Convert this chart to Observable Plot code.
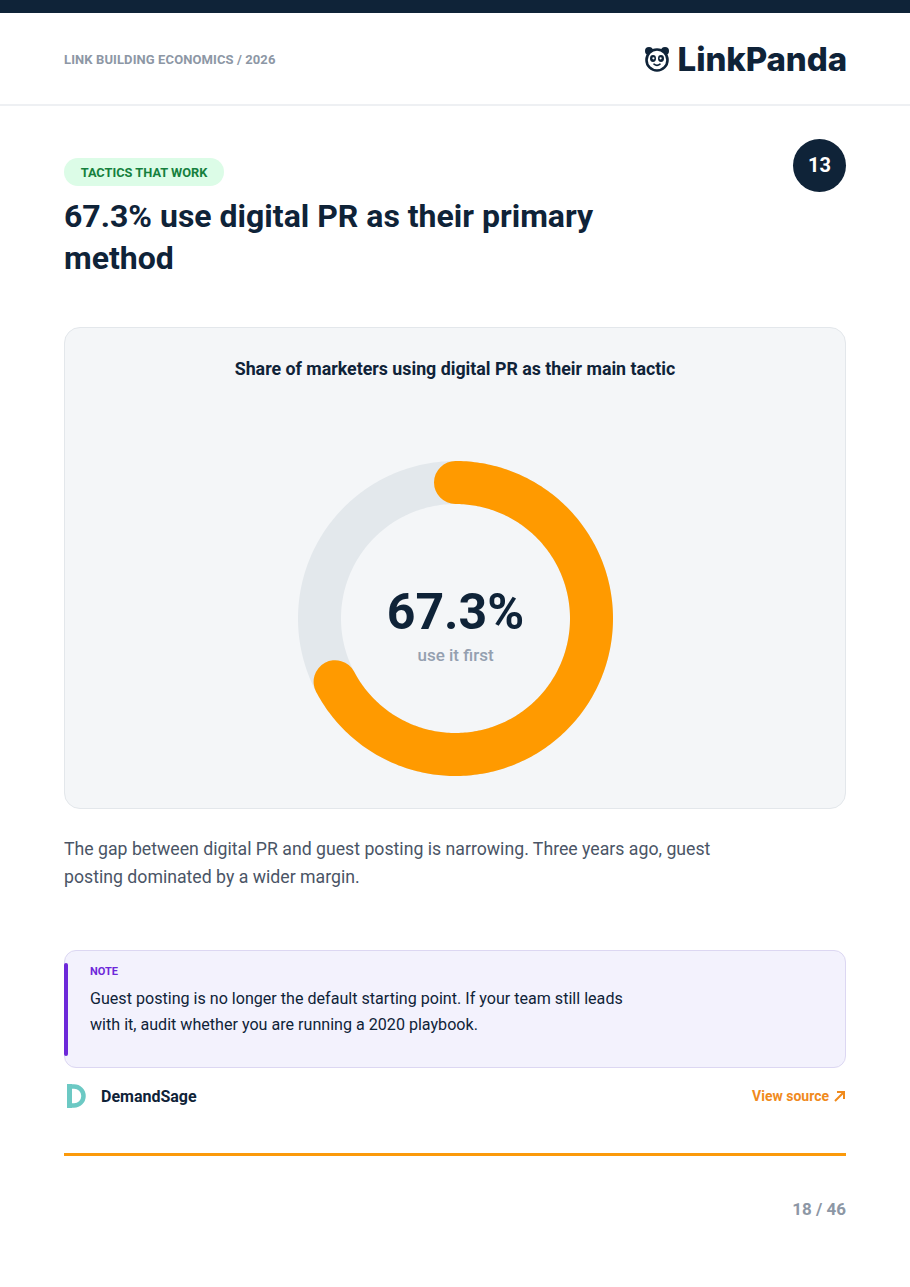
<!DOCTYPE html>
<html><head><meta charset="utf-8">
<script src="https://cdn.jsdelivr.net/npm/d3@7"></script>
<script src="https://cdn.jsdelivr.net/npm/@observablehq/plot@0.6"></script>
<style>
html,body{margin:0;padding:0;background:#fff;}
body{width:910px;height:1287px;position:relative;font-family:Roboto,"Noto Sans",sans-serif;color:#0f2338;overflow:hidden;}
.abs{position:absolute;}
#topbar{left:0;top:0;width:910px;height:13px;background:#0f2338;}
#kicker{left:64px;top:52px;font-size:13px;font-weight:700;color:#8d97a5;letter-spacing:0.1px;}
#logo{right:63px;top:39px;display:flex;align-items:center;gap:8px;}
#logo span{font-family:Inter,sans-serif;font-weight:800;font-size:33px;color:#0f2338;letter-spacing:-0.1px;}
#hr{left:0;top:104px;width:910px;height:2px;background:#eef0f3;}
#tag{left:64px;top:158px;width:160px;height:28px;border-radius:14px;background:#dcfce7;color:#15803d;font-size:12.8px;font-weight:700;line-height:29px;text-align:center;}
#num{left:793px;top:139px;width:53px;height:53px;border-radius:50%;background:#0f2338;color:#fff;font-size:20px;font-weight:700;line-height:53px;text-align:center;}
#title{left:64px;top:195px;width:640px;font-size:32px;font-weight:700;line-height:42px;color:#0f2338;margin:0;}
#card{left:64px;top:327px;width:780px;height:480px;background:#f4f6f8;border:1px solid #e3e7eb;border-radius:16px;}
#cardtitle{left:64px;top:358px;width:782px;text-align:center;font-size:17.8px;font-weight:700;color:#0f2338;}
#chart{left:285px;top:448px;}
#para{left:64px;top:835px;width:690px;font-size:17.7px;line-height:28px;color:#4a5566;margin:0;}
#note{left:64px;top:950px;width:780px;height:116px;background:#f3f2fd;border:1px solid #dcd7f2;border-radius:12px;}
#notebar{left:64px;top:963px;width:4px;height:93px;background:#6d28d9;border-radius:2px;}
#notelabel{left:90px;top:965px;font-size:11px;font-weight:700;color:#6d28d9;}
#notetext{left:90px;top:986px;width:560px;font-size:16.1px;line-height:26px;color:#0f2338;margin:0;}
#dlogo{left:66px;top:1083px;}
#src{left:101px;top:1087px;font-size:16px;font-weight:700;color:#0f2338;}
#view{right:64px;top:1088px;font-size:14px;font-weight:700;color:#f08a1c;display:flex;align-items:center;gap:4px;}
#rule{left:64px;top:1153px;width:782px;height:3px;background:#fb9a0b;}
#page{right:64px;top:1199px;font-size:17px;font-weight:700;color:#8d97a5;}
</style></head>
<body>
<div id="topbar" class="abs"></div>
<div id="kicker" class="abs">LINK BUILDING ECONOMICS / 2026</div>
<div id="logo" class="abs">
<svg width="26" height="26" viewBox="0 0 26 26">
<circle cx="5" cy="5" r="4" fill="#0f2338"/><circle cx="21" cy="5" r="4" fill="#0f2338"/>
<circle cx="13" cy="14" r="10.5" fill="#fff" stroke="#0f2338" stroke-width="2.6"/>
<ellipse cx="9" cy="12.5" rx="3" ry="3.4" fill="#0f2338"/><ellipse cx="17" cy="12.5" rx="3" ry="3.4" fill="#0f2338"/>
<circle cx="9.4" cy="12.3" r="1.1" fill="#fff"/><circle cx="16.6" cy="12.3" r="1.1" fill="#fff"/>
<path d="M10 18.2 Q13 20.6 16 18.2" fill="none" stroke="#0f2338" stroke-width="1.6" stroke-linecap="round"/>
</svg><span>LinkPanda</span></div>
<div id="hr" class="abs"></div>
<div id="tag" class="abs">TACTICS THAT WORK</div>
<div id="num" class="abs">13</div>
<h1 id="title" class="abs">67.3% use digital PR as their primary method</h1>
<div id="card" class="abs"></div>
<div id="cardtitle" class="abs">Share of marketers using digital PR as their main tactic</div>
<div id="chart" class="abs"></div>
<p id="para" class="abs">The gap between digital PR and guest posting is narrowing. Three years ago, guest posting dominated by a wider margin.</p>
<div id="note" class="abs"></div>
<div id="notebar" class="abs"></div>
<div id="notelabel" class="abs">NOTE</div>
<p id="notetext" class="abs">Guest posting is no longer the default starting point. If your team still leads with it, audit whether you are running a 2020 playbook.</p>
<svg id="dlogo" class="abs" width="24" height="26" viewBox="0 0 24 26"><path d="M3.5 1 V25" stroke="#6cc9c4" stroke-width="5"/><path d="M3.5 3.5 H8 A9.5 9.5 0 0 1 8 22.5 H3.5" fill="none" stroke="#6cc9c4" stroke-width="4.5"/></svg>
<div id="src" class="abs">DemandSage</div>
<div id="view" class="abs"><span>View source</span><svg width="13" height="13" viewBox="0 0 13 13"><path d="M2 11 L11 2 M4 2 H11 V9" fill="none" stroke="#f08a1c" stroke-width="2"/></svg></div>
<div id="rule" class="abs"></div>
<div id="page" class="abs">18 / 46</div>
<script>
// Data
const shareLabels = ["Digital PR (primary)", "Other"];
const shareValues = [67.3, 32.7];
const centerValue = ["67.3%"];
const centerSub = ["use it first"];

const total = d3.sum(shareValues);
function arcPoints(fromFrac, toFrac, n) {
  const pts = [];
  for (let i = 0; i <= n; i++) {
    const f = fromFrac + (toFrac - fromFrac) * i / n;
    const a = f * 2 * Math.PI;
    pts.push({x: Math.sin(a), y: Math.cos(a)});
  }
  return pts;
}
const track = arcPoints(0, 1, 360);
const prFrac = shareValues[0] / total;
const prArc = arcPoints(0, prFrac, Math.round(360 * prFrac));

const chart = Plot.plot({
  width: 340, height: 340,
  margin: 0,
  x: {domain: [-1.25, 1.25], axis: null},
  y: {domain: [-1.25, 1.25], axis: null},
  style: {background: "transparent", fontFamily: "Roboto, sans-serif"},
  marks: [
    Plot.line(track, {x: "x", y: "y", stroke: "#e3e8ec", strokeWidth: 43, curve: "linear"}),
    Plot.line(prArc, {x: "x", y: "y", stroke: "#ff9a00", strokeWidth: 43, strokeLinecap: "round", curve: "linear"}),
    Plot.text(centerValue, {text: d => d, frameAnchor: "middle", dy: -6, fontSize: 50, fontWeight: 700, fill: "#0f2338"}),
    Plot.text(centerSub, {text: d => d, frameAnchor: "middle", dy: 37, fontSize: 17, fontWeight: 500, fill: "#94a0b0"})
  ]
});
document.getElementById("chart").appendChild(chart);
</script>
</body></html>
